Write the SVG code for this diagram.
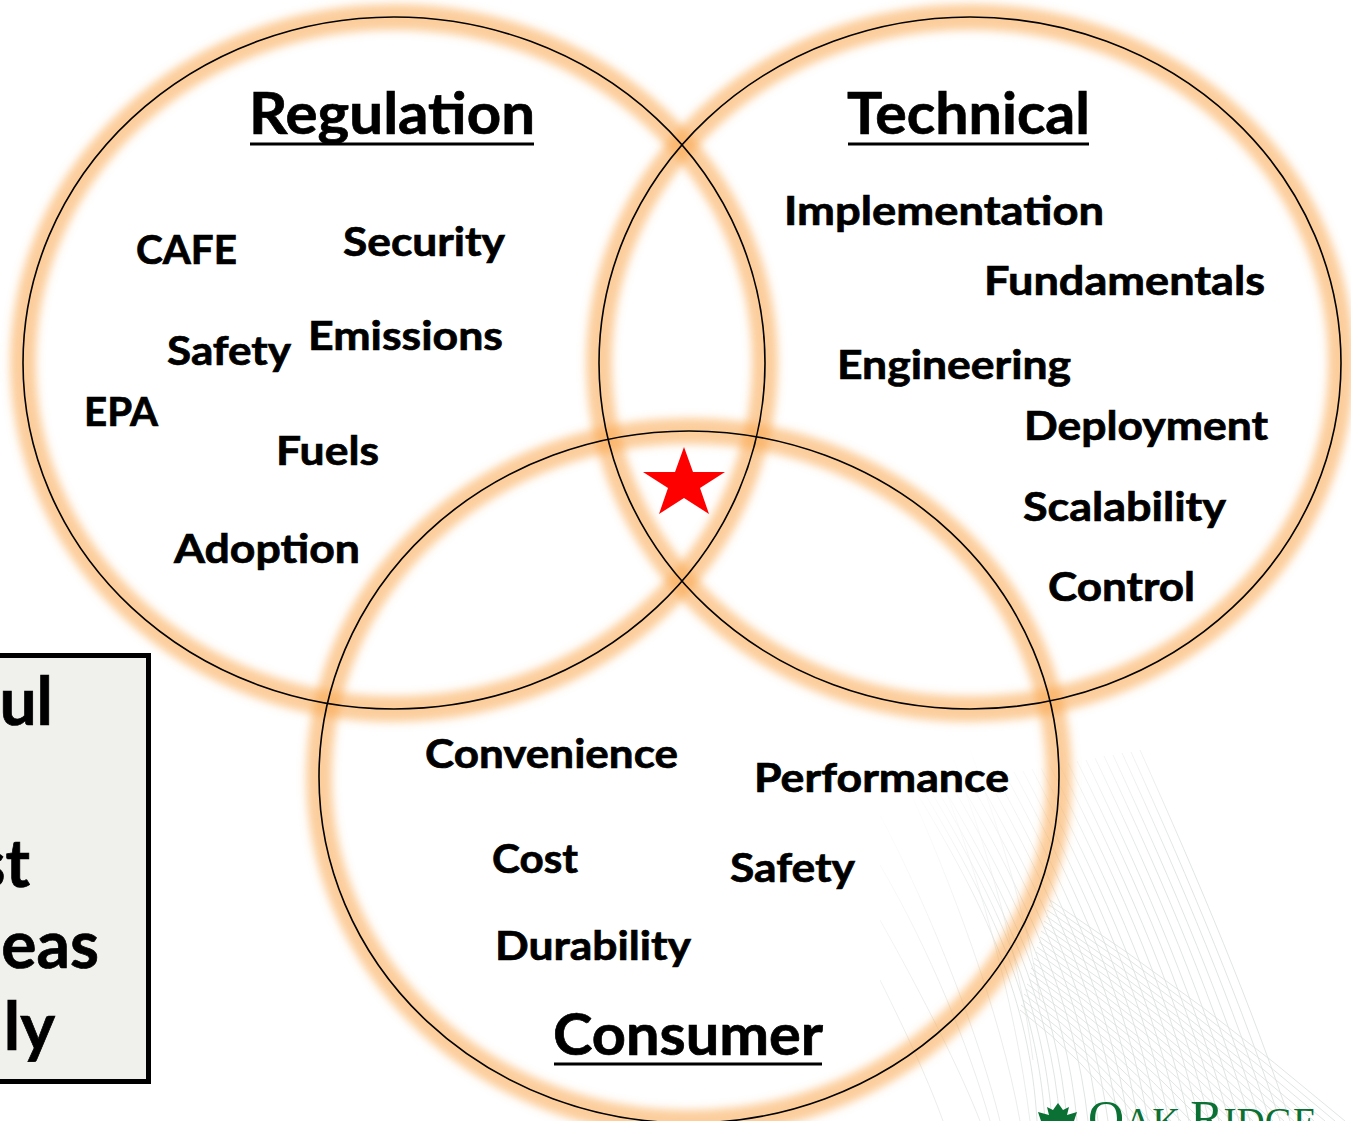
<svg xmlns="http://www.w3.org/2000/svg" width="1351" height="1121" viewBox="0 0 1351 1121">
<style>
text{font-family:"Lato","Carlito","Liberation Sans",sans-serif;font-weight:700;fill:#000;stroke:#000;stroke-width:.7}
.t{font-size:41px}
.h{font-size:58px}
.b{font-size:66px}
.u{stroke:#000;stroke-width:3;fill:none}
.c{fill:none;stroke:#000;stroke-width:1.6}
.g{fill:none;stroke:#f9a54c;stroke-width:26;stroke-opacity:.55;filter:url(#blur)}
.m path{fill:none;stroke:#d8dedb;stroke-width:.8}
.n path{fill:none;stroke:#e4e8e6;stroke-width:.8}
</style>
<defs>
<filter id="blur" x="-10%" y="-10%" width="120%" height="120%"><feGaussianBlur stdDeviation="4.500"/></filter>
<linearGradient id="fade" gradientUnits="userSpaceOnUse" x1="900" y1="780" x2="1010" y2="960">
<stop offset="0" stop-color="#000"/><stop offset="1" stop-color="#fff"/>
</linearGradient>
<mask id="meshfade" maskUnits="userSpaceOnUse" x="880" y="740" width="471" height="381"><rect x="880" y="740" width="471" height="381" fill="url(#fade)"/></mask>
</defs>
<rect width="1351" height="1121" fill="#fff"/>
<g id="background-mesh" mask="url(#meshfade)">
<g class="n">
<path d="M880 815C935 920 980 1040 1000 1121"/>
<path d="M880 920C925 1000 960 1070 980 1121"/>
<path d="M880 980C910 1040 930 1085 943 1121"/>
<path d="M880 865C930 950 970 1050 990 1121"/>
<path d="M905 780C950 880 1000 1010 1020 1121"/>
<path d="M930 750C975 860 1015 1000 1030 1121"/>
<path d="M950 750C985 840 1020 960 1033 1060"/>
<path d="M970 750C1000 830 1030 930 1040 1000"/>
</g>
<g class="m">
<path d="M915 790C985 905 1030 1000 1037 1121"/>
<path d="M922 789C991 904 1037 1000 1045 1121"/>
<path d="M929 788C998 904 1043 1001 1052 1121"/>
<path d="M935 786C1004 903 1050 1001 1060 1121"/>
<path d="M942 785C1011 902 1057 1001 1067 1121"/>
<path d="M951 784C1019 901 1066 1002 1077 1121"/>
<path d="M960 782C1028 901 1075 1002 1088 1121"/>
<path d="M969 780C1037 900 1084 1002 1098 1121"/>
<path d="M978 779C1045 899 1092 1003 1108 1121"/>
<path d="M987 777C1054 898 1101 1003 1118 1121"/>
<path d="M996 776C1062 897 1110 1004 1128 1121"/>
<path d="M1005 774C1071 896 1119 1004 1138 1121"/>
<path d="M1014 772C1080 895 1128 1004 1148 1121"/>
<path d="M1023 771C1088 894 1137 1005 1158 1121"/>
<path d="M1032 769C1097 894 1146 1005 1169 1121"/>
<path d="M1041 768C1105 893 1155 1006 1179 1121"/>
<path d="M1050 766C1114 892 1164 1006 1189 1121"/>
<path d="M1059 764C1123 891 1173 1006 1199 1121"/>
<path d="M1068 763C1131 890 1182 1007 1209 1121"/>
<path d="M1077 761C1140 889 1191 1007 1219 1121"/>
<path d="M1086 760C1148 888 1199 1008 1229 1121"/>
<path d="M1095 758C1157 887 1208 1008 1239 1121"/>
<path d="M1104 756C1166 887 1217 1008 1250 1121"/>
<path d="M1113 755C1174 886 1226 1009 1260 1121"/>
<path d="M1122 753C1183 885 1235 1009 1270 1121"/>
<path d="M1131 752C1191 884 1244 1010 1280 1121"/>
<path d="M1140 750C1200 883 1253 1010 1290 1121"/>
<path d="M1020 1010Q1083 1058 1130 1121"/>
<path d="M1021 1005Q1089 1055 1140 1121"/>
<path d="M1023 1000Q1094 1053 1150 1121"/>
<path d="M1024 994Q1100 1050 1161 1121"/>
<path d="M1026 989Q1106 1047 1171 1121"/>
<path d="M1027 984Q1112 1044 1181 1121"/>
<path d="M1029 979Q1118 1042 1191 1121"/>
<path d="M1030 973Q1124 1039 1202 1121"/>
<path d="M1031 968Q1130 1037 1212 1121"/>
<path d="M1033 963Q1136 1034 1222 1121"/>
<path d="M1034 958Q1141 1032 1232 1121"/>
<path d="M1036 952Q1148 1029 1243 1121"/>
<path d="M1037 947Q1153 1026 1253 1121"/>
<path d="M1039 942Q1159 1024 1263 1121"/>
<path d="M1040 937Q1165 1021 1273 1121"/>
<path d="M1041 931Q1171 1018 1284 1121"/>
<path d="M1043 926Q1177 1016 1294 1121"/>
<path d="M1044 921Q1182 1013 1304 1121"/>
<path d="M1046 916Q1188 1011 1314 1121"/>
<path d="M1047 910Q1194 1008 1325 1121"/>
<path d="M1049 905Q1200 1005 1335 1121"/>
<path d="M1050 900Q1206 1003 1345 1121"/>
</g>
</g>
<g id="logo">
<polygon fill="#0b7034" points="1058,1103 1063,1110 1069,1107 1067,1115 1077,1112 1074,1121 1041,1121 1038,1112 1049,1115 1047,1107 1053,1110"/>
<text x="1088" y="1135" style='font-family:"Liberation Serif",serif;font-weight:400;fill:#0b7034;stroke:none;font-size:50px'>O<tspan font-size="39">AK </tspan>R<tspan font-size="39">IDGE</tspan></text>
</g>
<g id="side-box">
<rect x="-10" y="655.500" width="158.500" height="426" fill="#f0f1ec" stroke="#000" stroke-width="5"/>
<text class="b" x="53" y="725" text-anchor="end">ul</text>
<text class="b" x="30" y="887" text-anchor="end">st</text>
<text class="b" x="99" y="968" text-anchor="end">eas</text>
<text class="b" x="55" y="1050" text-anchor="end">ly</text>
</g>
<g id="circle-regulation">
<ellipse class="g" cx="394" cy="363" rx="371" ry="346"/>
</g>
<g id="circle-technical">
<ellipse class="g" cx="970" cy="363" rx="371" ry="346"/>
</g>
<g id="circle-consumer">
<ellipse class="g" cx="689" cy="777" rx="370" ry="346"/>
</g>
<g id="connectors">
<ellipse class="c" cx="394" cy="363" rx="371" ry="346"/>
<ellipse class="c" cx="970" cy="363" rx="371" ry="346"/>
<ellipse class="c" cx="689" cy="777" rx="370" ry="346"/>
</g>
<g id="star">
<polygon fill="#f00" points="684,447 693,472 725,472 700,488 709,514 684,498 659,514 668,488 643,472 675,472"/>
</g>
<g id="labels-regulation">
<text class="h" x="249" y="134" textLength="286" lengthAdjust="spacingAndGlyphs">Regulation</text>
<path class="u" d="M250 144H534"/>
<text class="t" x="136" y="264" textLength="101" lengthAdjust="spacingAndGlyphs">CAFE</text>
<text class="t" x="343" y="256" textLength="162" lengthAdjust="spacingAndGlyphs">Security</text>
<text class="t" x="308" y="350" textLength="195" lengthAdjust="spacingAndGlyphs">Emissions</text>
<text class="t" x="167" y="365" textLength="124" lengthAdjust="spacingAndGlyphs">Safety</text>
<text class="t" x="84" y="426" textLength="74" lengthAdjust="spacingAndGlyphs">EPA</text>
<text class="t" x="276" y="465" textLength="103" lengthAdjust="spacingAndGlyphs">Fuels</text>
<text class="t" x="174" y="563" textLength="186" lengthAdjust="spacingAndGlyphs">Adoption</text>
</g>
<g id="labels-technical">
<text class="h" x="847" y="134" textLength="243" lengthAdjust="spacingAndGlyphs">Technical</text>
<path class="u" d="M848 144H1089"/>
<text class="t" x="784" y="225" textLength="320" lengthAdjust="spacingAndGlyphs">Implementation</text>
<text class="t" x="984" y="295" textLength="281" lengthAdjust="spacingAndGlyphs">Fundamentals</text>
<text class="t" x="837" y="379" textLength="234" lengthAdjust="spacingAndGlyphs">Engineering</text>
<text class="t" x="1024" y="440" textLength="244" lengthAdjust="spacingAndGlyphs">Deployment</text>
<text class="t" x="1023" y="521" textLength="203" lengthAdjust="spacingAndGlyphs">Scalability</text>
<text class="t" x="1048" y="601" textLength="147" lengthAdjust="spacingAndGlyphs">Control</text>
</g>
<g id="labels-consumer">
<text class="t" x="425" y="768" textLength="253" lengthAdjust="spacingAndGlyphs">Convenience</text>
<text class="t" x="754" y="792" textLength="255" lengthAdjust="spacingAndGlyphs">Performance</text>
<text class="t" x="492" y="873" textLength="86" lengthAdjust="spacingAndGlyphs">Cost</text>
<text class="t" x="730" y="882" textLength="125" lengthAdjust="spacingAndGlyphs">Safety</text>
<text class="t" x="495" y="960" textLength="196" lengthAdjust="spacingAndGlyphs">Durability</text>
<text class="h" x="553" y="1055" textLength="270" lengthAdjust="spacingAndGlyphs">Consumer</text>
<path class="u" d="M554 1064H822"/>
</g>
</svg>
